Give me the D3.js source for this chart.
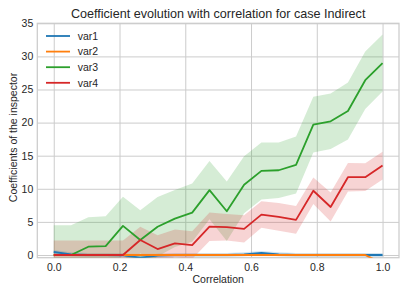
<!DOCTYPE html>
<html><head><meta charset="utf-8">
<script src="https://cdn.jsdelivr.net/npm/d3@7"></script>
<style>
html,body{margin:0;padding:0;background:#fff;}
svg{display:block;font-family:"Liberation Sans",Arial,sans-serif;}
</style></head>
<body>
<svg id="chart" width="407" height="294"></svg>
<script>
// ---- data ----
const correlation = d3.range(20).map(i => i / 19);
const seriesNames = ["var1", "var2", "var3", "var4"];
const colors = ["#1f77b4", "#ff7f0e", "#2ca02c", "#d62728"];
const var1Mean = [0.45,0.1,0,0,-0.05,-0.4,-0.1,0,0,0,0,0.1,0.3,0.1,0,0,0,0,0,0];
const var1Std  = [0.3,0.3,0.3,0.3,0.3,0.3,0.3,0.3,0.3,0.3,0.3,0.3,0.3,0.3,0.3,0.3,0.3,0.3,0.3,0.3];
const var2Mean = [0,0,0,0,0,0,0,0,0,0,0,0,0,0,0,0,0,0,0,-1.3];
const var2Std  = [0.2,0.2,0.2,0.2,0.2,0.2,0.2,0.2,0.2,0.2,0.2,0.2,0.2,0.2,0.2,0.2,0.2,0.2,0.2,0.2];
const var3Mean = [0,0,1.25,1.35,4.4,2.26,4.27,5.5,6.4,9.8,6.6,10.6,12.7,12.8,13.6,19.7,20.2,21.75,26.4,29.0];
const var3Std  = [4.5,4.5,4.45,4.5,4.4,4.5,4.5,4.3,4.4,4.4,4.5,4.3,4.3,4.2,4.3,4.2,4.2,4.3,4.35,4.3];
const var4Mean = [0,0,0,0,0,2.26,0.9,1.76,1.5,4.27,4.2,3.95,6.1,5.75,5.3,9.7,7.25,11.75,11.75,13.5];
const var4Std  = [2.2,2.2,2.2,2.2,2.2,2.0,2.1,2.1,2.1,2.15,2.0,2.05,2.0,2.1,2.1,2.0,2.2,2.15,2.1,2.1];
const xTicks = [0.0, 0.2, 0.4, 0.6, 0.8, 1.0];
const yTicks = [0, 5, 10, 15, 20, 25, 30, 35];
const titleText = "Coefficient evolution with correlation for case Indirect";
const xLabelText = "Correlation";
const yLabelText = "Coefficients of the inspector";

const means = [var1Mean, var2Mean, var3Mean, var4Mean];
const stds = [var1Std, var2Std, var3Std, var4Std];

// ---- layout ----
const L = 37.3, R = 399, T = 23.3, B = 257.7;
const x = d3.scaleLinear().domain([-0.05, 1.05]).range([L, R]);
const y = d3.scaleLinear().domain([-0.41, 35]).range([B, T]);
const textColor = "#262626";
const gridColor = "#cccccc";
const fs = 10.5;

const svg = d3.select("#chart");

svg.append("defs").append("clipPath").attr("id", "clip")
  .append("rect").attr("x", L).attr("y", T).attr("width", R - L).attr("height", B - T);

// grid
const gx = svg.append("g").attr("transform", `translate(0,${B})`)
  .call(d3.axisBottom(x).tickValues(xTicks).tickSize(-(B - T)).tickFormat(""));
gx.select(".domain").remove();
gx.selectAll("line").attr("stroke", gridColor).attr("stroke-width", 1);
const gy = svg.append("g").attr("transform", `translate(${L},0)`)
  .call(d3.axisLeft(y).tickValues(yTicks).tickSize(-(R - L)).tickFormat(""));
gy.select(".domain").remove();
gy.selectAll("line").attr("stroke", gridColor).attr("stroke-width", 1);

// frame
svg.append("rect").attr("x", L).attr("y", T).attr("width", R - L).attr("height", B - T)
  .attr("fill", "none").attr("stroke", gridColor).attr("stroke-width", 1.25);

const plot = svg.append("g").attr("clip-path", "url(#clip)");

// bands
const area = d3.area()
  .x(d => x(d.x)).y0(d => y(d.lo)).y1(d => y(d.hi));
seriesNames.forEach((name, k) => {
  const data = correlation.map((c, i) => ({x: c, lo: means[k][i] - stds[k][i], hi: means[k][i] + stds[k][i]}));
  plot.append("path").datum(data).attr("d", area)
    .attr("fill", colors[k]).attr("fill-opacity", 0.2).attr("stroke", "none");
});
// lines
const line = d3.line().x(d => x(d.x)).y(d => y(d.y));
seriesNames.forEach((name, k) => {
  const data = correlation.map((c, i) => ({x: c, y: means[k][i]}));
  plot.append("path").datum(data).attr("d", line)
    .attr("fill", "none").attr("stroke", colors[k]).attr("stroke-width", 1.8)
    .attr("stroke-linejoin", "round").attr("stroke-linecap", "butt");
});

// tick labels
const ax = svg.append("g").attr("transform", `translate(0,${B})`)
  .call(d3.axisBottom(x).tickValues(xTicks).tickSize(0).tickPadding(5.5).tickFormat(d3.format(".1f")));
ax.select(".domain").remove();
ax.selectAll("text").attr("fill", textColor).attr("font-size", fs).attr("font-family", "Liberation Sans, Arial, sans-serif");
const ay = svg.append("g").attr("transform", `translate(${L},0)`)
  .call(d3.axisLeft(y).tickValues(yTicks).tickSize(0).tickPadding(4).tickFormat(d3.format("d")));
ay.select(".domain").remove();
ay.selectAll("text").attr("fill", textColor).attr("font-size", fs).attr("font-family", "Liberation Sans, Arial, sans-serif");

// title & labels
svg.append("text").attr("x", (L + R) / 2).attr("y", 17.5).attr("text-anchor", "middle")
  .attr("fill", textColor).attr("font-size", 12.6).text(titleText);
svg.append("text").attr("x", (L + R) / 2).attr("y", 283.3).attr("text-anchor", "middle")
  .attr("fill", textColor).attr("font-size", fs).text(xLabelText);
svg.append("text").attr("transform", `translate(16.8,${(T + B) / 2 - 3}) rotate(-90)`)
  .attr("text-anchor", "middle").attr("fill", textColor).attr("font-size", fs).text(yLabelText);

// legend
const leg = svg.append("g");
seriesNames.forEach((name, k) => {
  const yy = 36 + k * 15.6;
  leg.append("line").attr("x1", 46).attr("x2", 70).attr("y1", yy).attr("y2", yy)
    .attr("stroke", colors[k]).attr("stroke-width", 1.8);
  leg.append("text").attr("x", 77.7).attr("y", yy + 3.8).attr("fill", textColor)
    .attr("font-size", fs).text(name);
});
</script>
</body></html>
